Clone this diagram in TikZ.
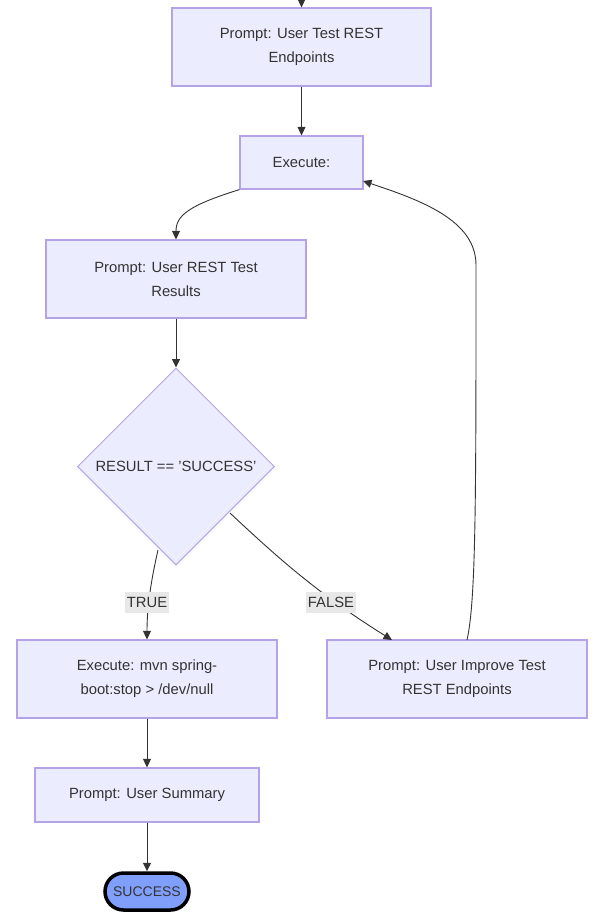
\documentclass[tikz,border=0pt]{standalone}
\usepackage{fontspec}
\setmainfont{Liberation Sans}
\usetikzlibrary{shapes.geometric,shapes.misc,arrows.meta}
\definecolor{nodefill}{HTML}{ECECFF}
\definecolor{nodeline}{HTML}{B6A2E6}
\definecolor{edgeline}{HTML}{333333}
\definecolor{txt}{HTML}{333333}
\definecolor{lblbg}{HTML}{E8E8E8}
\definecolor{okfill}{HTML}{7F9FFA}
\begin{document}
\begin{tikzpicture}[x=1pt,y=-1pt,
  box/.style={draw=nodeline,fill=nodefill,line width=1.2pt,text=txt,align=center,
    font=\fontsize{14.8}{24}\selectfont,inner sep=0pt},
  dia/.style={diamond,draw=nodeline,fill=nodefill,line width=1pt,text=txt,
    font=\fontsize{14.8}{24}\selectfont,inner sep=0pt,minimum width=197pt,minimum height=197pt},
  edge/.style={draw=edgeline,line width=0.9pt,-{Triangle[length=8.5pt,width=8pt]}},
  lbl/.style={fill=lblbg,text=txt,font=\fontsize{14.8}{16}\selectfont,inner xsep=1.5pt,
    minimum height=21pt},
  term/.style={rounded rectangle,draw=black,line width=3.5pt,fill=okfill,text=txt,
    font=\fontsize{14}{16}\selectfont,minimum width=84pt,minimum height=37pt,inner sep=0pt}]
\useasboundingbox (0,0) rectangle (597,922);
\node[box,minimum width=259pt,minimum height=78pt] (b1) at (301.5,47) {Prompt: User Test REST\\Endpoints};
\node[box,minimum width=123pt,minimum height=53pt] (b2) at (301.5,162.5) {Execute:};
\node[box,minimum width=260pt,minimum height=78pt] (b3) at (176,279) {Prompt: User REST Test\\Results};
\node[dia] (d) at (176,466.5) {RESULT == 'SUCCESS'};
\node[box,minimum width=260pt,minimum height=78pt] (b4) at (147,679) {Execute: mvn spring-\\boot:stop > /dev/null};
\node[box,minimum width=260pt,minimum height=78pt] (b5) at (457,679) {Prompt: User Improve Test\\REST Endpoints};
\node[box,minimum width=224pt,minimum height=54pt] (b6) at (147,795) {Prompt: User Summary};
\node[term] (ok) at (147,891.5) {SUCCESS};
\coordinate (top) at (301.5,0);
\coordinate (dsw) at (158,550);
\coordinate (dse) at (230,513);
\coordinate (b5in) at (392,640);
\coordinate (b5out) at (467,640);
\coordinate (b2in) at (363,181);
\draw[edge] (top) -- (b1.north);
\draw[edge] (b1.south) -- (b2.north);
\draw[edge] (b2.south west) .. controls (190,205) and (176,215) .. (b3.north);
\draw[edge] (b3.south) -- (d.north);
\draw[edge] (dsw) .. controls (150,585) and (147,610) .. (b4.north);
\node[lbl] at (147,602) {TRUE};
\draw[edge] (dse) .. controls (280,560) and (320,595) .. (b5in);
\node[lbl] at (331,602) {FALSE};
\draw[edge] (b5out) .. controls (476,600) and (476,500) .. (476,265) .. controls (476,220) and (420,200) .. (b2in);
\draw[edge] (b4.south) -- (b6.north);
\draw[edge] (b6.south) -- (ok.north);
\end{tikzpicture}
\end{document}
